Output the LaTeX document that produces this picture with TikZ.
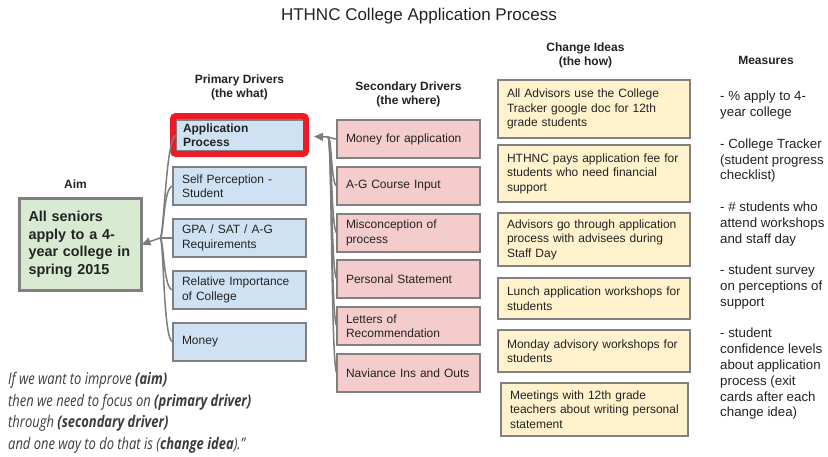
\documentclass[tikz,border=0pt]{standalone}
\usepackage{fontspec}
\setmainfont{Liberation Sans}
\newfontfamily\quotefont[FakeStretch=0.81]{Open Sans}
\usetikzlibrary{arrows.meta,calc}
\definecolor{bordergray}{RGB}{128,128,128}
\definecolor{conngray}{RGB}{125,125,125}
\definecolor{pblue}{RGB}{207,226,243}
\definecolor{spink}{RGB}{244,204,204}
\definecolor{cyellow}{RGB}{255,242,204}
\definecolor{agreen}{RGB}{217,234,211}
\definecolor{hired}{RGB}{237,28,36}
\definecolor{textcol}{RGB}{34,34,34}
\definecolor{quotecol}{RGB}{60,60,60}
\begin{document}
\begin{tikzpicture}[x=1pt,y=-1pt,
  boxbase/.style={draw=bordergray, line width=1.5pt, anchor=north west, outer sep=0pt, align=left, inner xsep=9pt, inner ysep=1pt, text=textcol, font=\fontsize{12}{14.5}\selectfont},
  pbox/.style={boxbase, fill=pblue, text width=115pt, minimum height=38pt},
  sbox/.style={boxbase, fill=spink, text width=125pt, minimum height=38pt},
  cbox/.style={boxbase, fill=cyellow, text width=174pt},
  head/.style={align=center, font=\bfseries\fontsize{12}{14}\selectfont, text=textcol, inner sep=0pt},
  conn/.style={draw=conngray, line width=1.5pt},
  tipline/.style={conn, -{Triangle[length=9pt,width=8pt]}}
]
\useasboundingbox (0,0) rectangle (828,456);

% title and headers
\node[font=\fontsize{17}{20}\selectfont, text=textcol] (title) at (419,16) {HTHNC College Application Process};
\node[head] (haim) at (75.5,184) {Aim};
\node[head] (hp) at (239.5,87) {Primary Drivers\\(the what)};
\node[head] (hs) at (408.5,94) {Secondary Drivers\\(the where)};
\node[head] (hc) at (585.5,55) {Change Ideas\\(the how)};
\node[head] (hm) at (766,60) {Measures};

% aim
\node[draw=bordergray, line width=3pt, fill=agreen, anchor=north west, outer sep=0pt,
      text width=104pt, inner xsep=9pt, minimum height=92pt, align=left, text=textcol,
      font=\bfseries\fontsize{14.4}{17.6}\selectfont] (aim) at (19.5,198.5)
  {All seniors\\apply to a 4-\\year college in\\spring 2015};

% primary drivers
\node[pbox, text width=114pt, inner xsep=7pt, minimum height=31pt, font=\bfseries\fontsize{12}{14}\selectfont] (p1) at (176,120) {Application\\Process};
\node[pbox] (p2) at (173,167) {Self Perception -\\Student};
\node[pbox] (p3) at (173,219) {GPA / SAT / A-G\\Requirements};
\node[pbox] (p4) at (173,271) {Relative Importance\\of College};
\node[pbox] (p5) at (173,323) {Money};
\draw[hired, line width=6pt, rounded corners=3pt] (173,116) rectangle (306,154);

% secondary drivers
\node[sbox] (s1) at (337,120) {Money for application};
\node[sbox] (s2) at (337,167) {A-G Course Input};
\node[sbox] (s3) at (337,214) {Misconception of\\process};
\node[sbox] (s4) at (337,260) {Personal Statement};
\node[sbox] (s5) at (337,307) {Letters of\\Recommendation};
\node[sbox] (s6) at (337,354) {Naviance Ins and Outs};

% change ideas
\node[cbox, minimum height=58pt] (c1) at (498,80) {All Advisors use the College\\Tracker google doc for 12th\\grade students};
\node[cbox, minimum height=57pt] (c2) at (498,145) {HTHNC pays application fee for\\students who need financial\\support};
\node[cbox, minimum height=53pt] (c3) at (498,213) {Advisors go through application\\process with advisees during\\Staff Day};
\node[cbox, minimum height=41pt] (c4) at (498,278) {Lunch application workshops for\\students};
\node[cbox, minimum height=42pt] (c5) at (498,330) {Monday advisory workshops for\\students};
\node[cbox, text width=169pt, minimum height=53pt] (c6) at (501,383) {Meetings with 12th grade\\teachers about writing personal\\statement};

% measures
\node[anchor=north west, inner sep=0pt, align=left, text=textcol, font=\fontsize{13.3}{15.8}\selectfont] (meas) at (720,91)
  {- \% apply to 4-\\year college\\[15.8pt]- College Tracker\\(student progress\\checklist)\\[15.8pt]- \# students who\\attend workshops\\and staff day\\[15.8pt]- student survey\\on perceptions of\\support\\[15.8pt]- student\\confidence levels\\about application\\process (exit\\cards after each\\change idea)};

% quote
\node[anchor=north west, inner sep=0pt, align=left, text=quotecol, font=\quotefont\itshape\fontsize{16}{21.7}\selectfont] (quote) at (8,372)
  {If we want to improve \textbf{(aim)}\\then we need to focus on \textbf{(primary driver)}\\through \textbf{(secondary driver)}\\and one way to do that is (\textbf{change idea}).”};

% connectors
\coordinate (J1) at (160,238);
\foreach \n in {p1,p2,p3,p4,p5}
  \draw[conn] (\n.west) .. controls +(-10,0) and +(4,0) .. (J1);
\draw[tipline] (J1) -- (aim.east);
\coordinate (J2) at (328,137);
\foreach \n in {s1,s2,s3,s4,s5,s6}
  \draw[conn] (\n.west) .. controls +(-6,0) and +(4,0) .. (J2);
\draw[tipline] (J2) -- ($(p1.east)+(10,1)$);
\end{tikzpicture}
\end{document}
